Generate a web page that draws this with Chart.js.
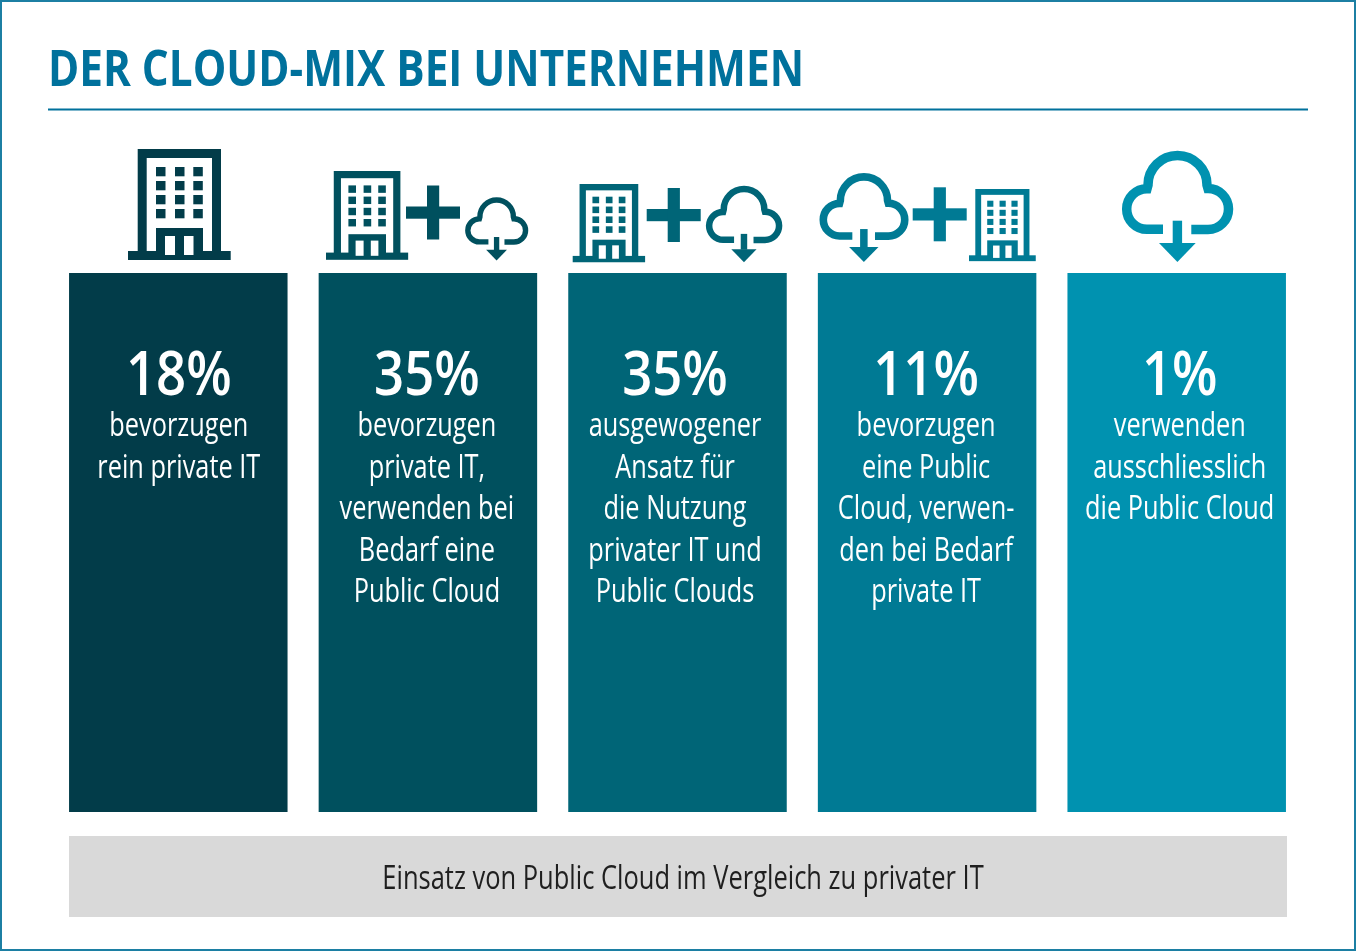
<!DOCTYPE html>
<html lang="de">
<head>
<meta charset="utf-8">
<title>Der Cloud-Mix bei Unternehmen</title>
<style>
    html, body { margin: 0; padding: 0; background: #fff; }
    canvas { display: block; }
</style>
<script src="https://cdn.jsdelivr.net/npm/chart.js@4"></script>
</head>
<body>
<canvas id="cloudMix" width="1356" height="951"></canvas>
<script>
    "use strict";

    // Daten
    const titleText = "DER CLOUD-MIX BEI UNTERNEHMEN";
    const footerText = "Einsatz von Public Cloud im Vergleich zu privater IT";
    const categories = ["Private IT", "Private IT + Cloud", "Ausgewogen", "Cloud + Private IT", "Public Cloud"];
    const shares = [18, 35, 35, 11, 1];
    const barHeights = [100, 100, 100, 100, 100]; // im Bild sind alle Balken gleich hoch
    const descriptions = [
        ["bevorzugen", "rein private IT"],
        ["bevorzugen", "private IT,", "verwenden bei", "Bedarf eine", "Public Cloud"],
        ["ausgewogener", "Ansatz für", "die Nutzung", "privater IT und", "Public Clouds"],
        ["bevorzugen", "eine Public", "Cloud, verwen-", "den bei Bedarf", "private IT"],
        ["verwenden", "ausschliesslich", "die Public Cloud"],
    ];
    const barColors = ["#023c49", "#00505e", "#006577", "#007a94", "#0092b0"];

    const FONT = '"Open Sans", sans-serif';
    const BLUE = "#00719c";
    const TEXT_SHIFT = [0.5, -1, -2.5, -1, 3]; // Text sitzt im Original nicht genau mittig

    // Schmaler Text: die Schrift im Original ist condensed
    function narrowText(ctx, text, x, y, font, color, stretch, align) {
        ctx.save();
        ctx.font = font;
        ctx.fillStyle = color;
        ctx.textAlign = align || "center";
        ctx.textBaseline = "alphabetic";
        ctx.translate(x, y);
        ctx.scale(stretch, 1);
        ctx.fillText(text, 0, 0);
        ctx.restore();
    }

    // Gebäude-Icon, Grundmass 102.7 x 111
    function drawBuilding(ctx, x, y, s, color) {
        ctx.save();
        ctx.translate(x, y);
        ctx.scale(s, s);
        ctx.fillStyle = color;
        ctx.fillRect(9.7, 0, 83.3, 104);
        ctx.fillRect(0, 102, 102.7, 9);
        ctx.fillStyle = "#fff";
        ctx.fillRect(18.7, 9, 65.3, 93);
        ctx.fillStyle = color;
        [28, 47, 65.3].forEach((wx) => {
            [18, 32, 46, 60].forEach((wy) => ctx.fillRect(wx, wy, 9.5, 9.3));
        });
        ctx.fillRect(28, 79, 47, 25);
        ctx.fillStyle = "#fff";
        ctx.fillRect(37, 87, 10, 19);
        ctx.fillRect(56, 87, 9.5, 19);
        ctx.restore();
    }

    // Wolken-Icon, Grundmass 111.6 x 111
    function drawCloud(ctx, x, y, s, color) {
        ctx.save();
        ctx.translate(x, y);
        ctx.scale(s, s);
        ctx.strokeStyle = color;
        ctx.fillStyle = color;
        ctx.lineWidth = 9.5;
        ctx.beginPath();
        ctx.moveTo(41.3, 78.3);
        ctx.lineTo(25.3, 78.3);
        ctx.arc(25.3, 58, 20.3, Math.PI / 2, Math.PI * 1.5);
        ctx.lineTo(26.3, 34);
        ctx.arc(55.8, 34, 29.5, Math.PI, Math.PI * 2);
        ctx.lineTo(86.3, 37.5);
        ctx.arc(86.3, 58, 20.5, -Math.PI / 2, Math.PI / 2);
        ctx.lineTo(69.6, 78.5);
        ctx.stroke();
        ctx.fillRect(51, 69.7, 9.4, 23);
        ctx.beginPath();
        ctx.moveTo(37.3, 92);
        ctx.lineTo(74, 92);
        ctx.lineTo(55.7, 111);
        ctx.closePath();
        ctx.fill();
        ctx.restore();
    }

    function drawPlus(ctx, x, y, color) {
        ctx.fillStyle = color;
        ctx.fillRect(x, y + 21, 54, 12.2);
        ctx.fillRect(x + 21, y, 12.2, 54);
    }

    const decorPlugin = {
        id: "decor",
        beforeDraw(chart) {
            const ctx = chart.ctx;
            ctx.save();
            ctx.fillStyle = "#fff";
            ctx.fillRect(0, 0, chart.width, chart.height);
            // Rahmen
            ctx.strokeStyle = "#1c7fa3";
            ctx.lineWidth = 2;
            ctx.strokeRect(1, 1, chart.width - 2, chart.height - 2);
            // Titel und Linie
            narrowText(ctx, titleText, 48, 86, "700 51px " + FONT, BLUE, 0.829, "left");
            ctx.fillStyle = BLUE;
            ctx.fillRect(48, 108.5, 1260, 2);
            // Fussleiste
            ctx.fillStyle = "#d9d9d9";
            ctx.fillRect(69, 836, 1218, 81);
            narrowText(ctx, footerText, 683, 889, "400 33px " + FONT, "#1f1f1f", 0.772);
            ctx.restore();
        },
        afterDatasetsDraw(chart) {
            const ctx = chart.ctx;
            const bars = chart.getDatasetMeta(0).data;

            // Icons
            drawBuilding(ctx, 128, 149, 1, barColors[0]);
            drawBuilding(ctx, 326, 171, 0.8, barColors[1]);
            drawPlus(ctx, 406, 185.5, barColors[1]);
            drawCloud(ctx, 465, 197.5, 0.567, barColors[1]);
            drawBuilding(ctx, 572.7, 184, 0.705, barColors[2]);
            drawPlus(ctx, 646.7, 188, barColors[2]);
            drawCloud(ctx, 705.7, 186, 0.687, barColors[2]);
            drawCloud(ctx, 819.3, 173.3, 0.8, barColors[3]);
            drawPlus(ctx, 912.7, 187.3, barColors[3]);
            drawBuilding(ctx, 969, 189, 0.65, barColors[3]);
            drawCloud(ctx, 1121.7, 151, 1, barColors[4]);

            // Texte in den Balken
            bars.forEach((bar, i) => {
                const cx = bar.x + TEXT_SHIFT[i];
                narrowText(ctx, shares[i] + "%", cx, 395, "600 61px " + FONT, "#fff", 0.863);
                descriptions[i].forEach((line, k) => {
                    narrowText(ctx, line, cx, 436 + k * 41.5, "400 33px " + FONT, "#fff", 0.768);
                });
            });
        },
    };

    new Chart(document.getElementById("cloudMix").getContext("2d"), {
        type: "bar",
        data: {
            labels: categories,
            datasets: [
                {
                    data: barHeights,
                    backgroundColor: barColors,
                    borderWidth: 0,
                    barPercentage: 218.5 / 249.6,
                    categoryPercentage: 1,
                },
            ],
        },
        options: {
            responsive: false,
            animation: false,
            layout: { padding: { left: 53.5, right: 54.5, top: 273, bottom: 139 } },
            plugins: { legend: { display: false }, tooltip: { enabled: false } },
            scales: {
                x: { display: false },
                y: { display: false, min: 0, max: 100 },
            },
        },
        plugins: [decorPlugin],
    });
</script>
</body>
</html>
